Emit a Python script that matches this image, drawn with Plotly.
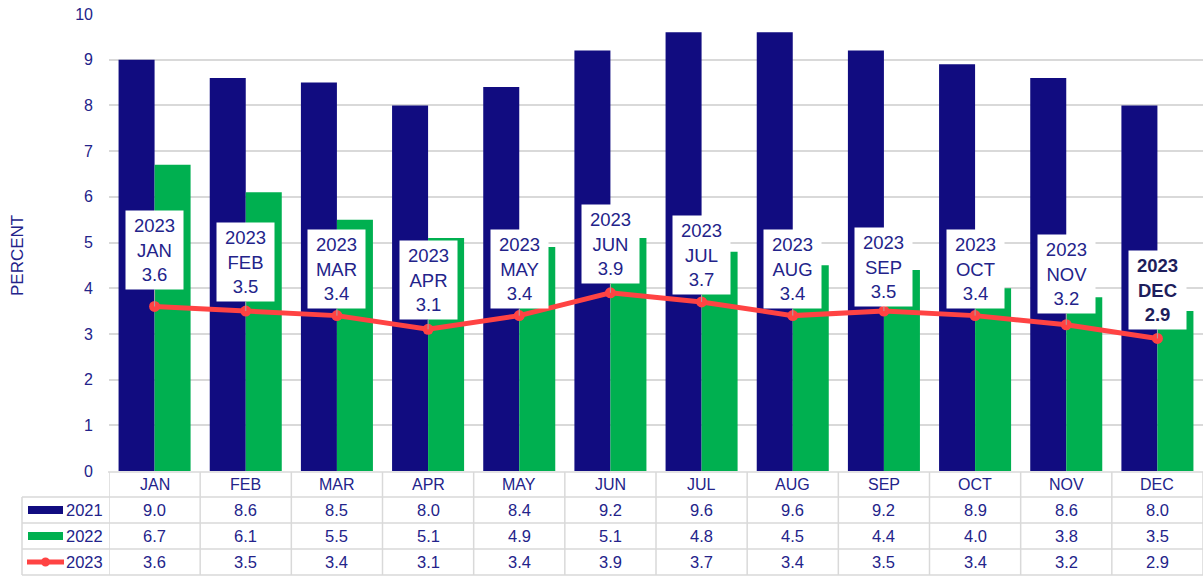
import plotly.graph_objects as go

months = ["JAN", "FEB", "MAR", "APR", "MAY", "JUN", "JUL", "AUG", "SEP", "OCT", "NOV", "DEC"]
v2021 = [9.0, 8.6, 8.5, 8.0, 8.4, 9.2, 9.6, 9.6, 9.2, 8.9, 8.6, 8.0]
v2022 = [6.7, 6.1, 5.5, 5.1, 4.9, 5.1, 4.8, 4.5, 4.4, 4.0, 3.8, 3.5]
v2023 = [3.6, 3.5, 3.4, 3.1, 3.4, 3.9, 3.7, 3.4, 3.5, 3.4, 3.2, 2.9]
series_names = ["2021", "2022", "2023"]
y_title = "PERCENT"

NAVY = "#110C80"
GREEN = "#00B050"
RED = "#FF4343"
TXT = "#23238A"
GRID = "#D9D9D9"

# style: label pixel offsets above the 2023 points
label_dy = [-56, -49, -47, -49, -47, -49, -47, -47, -44, -47, -51, -48]

W, H = 1203, 578
OFF = 0  # page body margin reset to 0 by post_script below
ml = 109 - OFF
mt = 14 - OFF
mb = H - (471 - OFF)
mr = W - (1203 - OFF)
ph = H - mt - mb
pw = W - ml - mr

def py(Y):
    """screen pixel y -> paper y"""
    return (471 - Y) / ph

def px(X):
    return (X - 109) / pw

fig = go.Figure()
fig.add_bar(x=months, y=v2021, name="2021", marker=dict(color=NAVY, line=dict(width=0)))
fig.add_bar(x=months, y=v2022, name="2022", marker=dict(color=GREEN, line=dict(width=0)))
fig.add_scatter(x=months, y=v2023, name="2023", mode="lines+markers",
                line=dict(color=RED, width=5), marker=dict(color=RED, size=11))

FONT = "Liberation Sans, Arial, sans-serif"
annotations = []
for i, (m, v) in enumerate(zip(months, v2023)):
    txt = f"2023<br>{m}<br>{v:.1f}"
    bold = (i == len(months) - 1)
    if bold:
        txt = f"<b>{txt}</b>"
    annotations.append(dict(
        x=m, y=v, xref="x", yref="y", text=txt, showarrow=True,
        arrowhead=0, arrowwidth=1, arrowcolor="#A8A8A8", ax=0, ay=label_dy[i],
        standoff=0, bgcolor="white", width=55, height=76, align="center", valign="middle",
        font=dict(family=FONT, size=18.5, color="#1E1E5C" if bold else TXT)))

annotations.append(dict(x=px(17), xref="paper", y=py(256), yref="paper", text=y_title,
                        textangle=-90, showarrow=False, xanchor="center", yanchor="middle",
                        font=dict(family=FONT, size=17, color=TXT)))

row_edges = [472, 497, 523, 549, 575]
shapes = []
for j, m in enumerate(months):
    annotations.append(dict(x=m, xref="x", y=py((row_edges[0] + row_edges[1]) / 2), yref="paper",
                            yanchor="middle", xanchor="center",
                            text=m, showarrow=False, font=dict(family=FONT, size=16, color=TXT)))
rows = [v2021, v2022, v2023]
for r, vals in enumerate(rows):
    yc = py((row_edges[r + 1] + row_edges[r + 2]) / 2)
    for j, m in enumerate(months):
        annotations.append(dict(x=m, xref="x", y=yc, yref="paper", yanchor="middle", xanchor="center",
                                text=f"{vals[j]:.1f}",
                                showarrow=False, font=dict(family=FONT, size=16.5, color=TXT)))
    annotations.append(dict(x=px(64), xref="paper", xanchor="left", y=yc, yref="paper",
                            yanchor="middle", text=series_names[r], showarrow=False,
                            font=dict(family=FONT, size=16.5, color=TXT)))

line_style = dict(color=GRID, width=1.5)
shapes.append(dict(type="line", xref="paper", yref="paper", x0=px(108), x1=1, y0=py(row_edges[0]), y1=py(row_edges[0]), line=line_style))
for Y in row_edges[1:]:
    shapes.append(dict(type="line", xref="paper", yref="paper", x0=px(22), x1=1, y0=py(Y), y1=py(Y), line=line_style))
for k in range(len(months) + 1):
    shapes.append(dict(type="line", xref="x", yref="paper", x0=k - 0.5, x1=k - 0.5,
                       y0=py(row_edges[0]), y1=py(row_edges[-1]), line=line_style))
shapes.append(dict(type="line", xref="paper", yref="paper", x0=px(22), x1=px(22),
                   y0=py(row_edges[1]), y1=py(row_edges[-1]), line=line_style))
for r, col in enumerate([NAVY, GREEN]):
    yc = (row_edges[r + 1] + row_edges[r + 2]) / 2
    shapes.append(dict(type="rect", xref="paper", yref="paper", x0=px(28), x1=px(63),
                       y0=py(yc + 4), y1=py(yc - 4), fillcolor=col, line=dict(width=0)))
yc = (row_edges[3] + row_edges[4]) / 2
shapes.append(dict(type="line", xref="paper", yref="paper", x0=px(27), x1=px(64),
                   y0=py(yc), y1=py(yc), line=dict(color=RED, width=5)))
shapes.append(dict(type="circle", xref="paper", yref="paper", x0=px(41), x1=px(50),
                   y0=py(yc + 4.5), y1=py(yc - 4.5), fillcolor=RED, line=dict(width=0)))

fig.update_layout(
    width=W, height=H, margin=dict(l=ml, r=mr, t=mt, b=mb, autoexpand=False),
    plot_bgcolor="white", paper_bgcolor="white", showlegend=False,
    barmode="group", bargap=0.21, bargroupgap=0,
    font=dict(family=FONT, color=TXT),
    annotations=annotations, shapes=shapes,
)
fig.update_xaxes(showticklabels=False, showgrid=False, zeroline=False, showline=False, ticks="",
                 automargin=False, range=[-0.5, len(months) - 0.5])
fig.update_yaxes(range=[0, 10], tickmode="array", tickvals=list(range(0, 11)),
                 showgrid=True, gridcolor=GRID, gridwidth=1.5, ticklabeloverflow="allow",
                 zeroline=False, showline=False, ticklabelstandoff=15, automargin=False,
                 tickfont=dict(family=FONT, size=16, color=TXT))

fig.write_html("out.html", config={"displayModeBar": False},
               post_script="document.body.style.margin='0px';")
